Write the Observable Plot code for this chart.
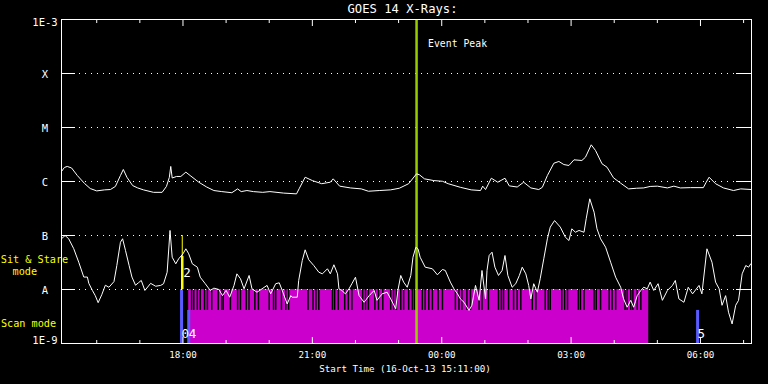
<!DOCTYPE html>
<html>
<head>
<meta charset="utf-8">
<script src="https://cdn.jsdelivr.net/npm/d3@7"></script>
<script src="https://cdn.jsdelivr.net/npm/@observablehq/plot@0.6"></script>
<style>
  html, body { margin: 0; padding: 0; background: #000; }
  #chart { width: 768px; height: 384px; }
</style>
</head>
<body>
<div id="chart"></div>
<script>
// ---------------- data ----------------
const titleText = "GOES 14 X-Rays:";
const xTitle = "Start Time (16-Oct-13 15:11:00)";
const startClock = "15:11";
const endClock = "07:11";

const levelValues = [1e-9, 1e-8, 1e-7, 1e-6, 1e-5, 1e-4, 1e-3];
const levelLabels = ["1E-9", "A", "B", "C", "M", "X", "1E-3"];
const gridLevels = [1e-8, 1e-7, 1e-6, 1e-5, 1e-4];

const xTickClocks = ["18:00", "21:00", "00:00", "03:00", "06:00"];

// GOES long channel (1-8 A)
const longTimes = ["15:11","15:15","15:19","15:25","15:33","15:43","15:51","16:00","16:11","16:19","16:26","16:33","16:37","16:42","16:50","16:57","17:05","17:19","17:31","17:37","17:41","17:43","17:45","17:51","17:57","18:04","18:10","18:22","18:33","18:43","18:54","19:08","19:16","19:21","19:29","19:38","19:51","20:01","20:20","20:38","20:42","20:50","21:00","21:13","21:25","21:29","21:38","21:53","22:08","22:18","22:33","22:49","23:01","23:14","23:25","23:29","23:36","23:49","00:01","00:09","00:26","00:41","00:54","00:57","01:01","01:09","01:18","01:28","01:34","01:45","01:54","02:04","02:15","02:20","02:27","02:36","02:43","02:50","02:57","03:04","03:15","03:20","03:28","03:34","03:43","03:50","03:59","04:09","04:20","04:31","04:41","04:50","05:00","05:14","05:23","05:32","05:46","06:04","06:08","06:12","06:21","06:32","06:46","06:56","07:11"];
const longFlux = [1.53e-6,1.82e-6,1.90e-6,1.78e-6,1.29e-6,9.2e-7,7.4e-7,6.7e-7,7.0e-7,7.1e-7,8.1e-7,1.29e-6,1.67e-6,1.20e-6,8.4e-7,7.6e-7,7.0e-7,6.3e-7,6.3e-7,8.1e-7,1.19e-6,1.90e-6,1.16e-6,1.24e-6,1.24e-6,1.49e-6,1.29e-6,9.7e-7,7.9e-7,6.8e-7,6.5e-7,6.2e-7,7.3e-7,6.5e-7,6.8e-7,6.5e-7,6.3e-7,6.5e-7,6.1e-7,5.9e-7,7.5e-7,1.20e-6,1.04e-6,9.1e-7,9.7e-7,1.12e-6,8.2e-7,7.6e-7,7.3e-7,6.6e-7,6.8e-7,7.0e-7,7.5e-7,9.1e-7,1.39e-6,1.33e-6,1.12e-6,1.04e-6,1.01e-6,9.1e-7,7.8e-7,7.0e-7,6.8e-7,8.2e-7,7.1e-7,1.15e-6,9.7e-7,1.15e-6,8.3e-7,7.9e-7,9.7e-7,7.6e-7,7.1e-7,7.8e-7,1.29e-6,2.18e-6,2.35e-6,2.06e-6,1.98e-6,2.52e-6,2.45e-6,2.82e-6,4.78e-6,3.75e-6,2.13e-6,1.84e-6,1.17e-6,9.3e-7,7.3e-7,7.5e-7,7.6e-7,8.1e-7,8.2e-7,7.6e-7,8.2e-7,7.6e-7,7.7e-7,7.7e-7,9.7e-7,1.20e-6,9.1e-7,7.6e-7,6.8e-7,7.3e-7,7.1e-7];

// GOES short channel (0.5-4 A)
const shortTimes = ["15:11","15:16","15:21","15:28","15:35","15:42","15:47","15:49","15:54","15:58","16:02","16:07","16:12","16:17","16:24","16:28","16:33","16:36","16:40","16:45","16:49","16:54","16:58","17:02","17:07","17:15","17:22","17:29","17:33","17:38","17:42","17:45","17:50","17:54","18:00","18:04","18:08","18:13","18:20","18:24","18:31","18:38","18:43","18:50","18:55","19:00","19:05","19:11","19:15","19:20","19:25","19:32","19:36","19:43","19:50","19:57","20:02","20:09","20:14","20:19","20:25","20:30","20:32","20:39","20:41","20:46","20:50","20:55","21:02","21:09","21:14","21:21","21:25","21:30","21:35","21:37","21:41","21:46","21:51","21:55","22:00","22:05","22:12","22:19","22:26","22:30","22:37","22:44","22:49","22:56","22:59","23:03","23:07","23:12","23:17","23:20","23:24","23:27","23:30","23:37","23:47","23:54","00:01","00:05","00:12","00:17","00:22","00:26","00:31","00:38","00:42","00:47","00:52","00:56","01:01","01:03","01:06","01:10","01:14","01:19","01:24","01:28","01:32","01:38","01:43","01:48","01:52","01:57","02:01","02:04","02:08","02:13","02:17","02:22","02:27","02:31","02:37","02:45","02:52","02:57","03:01","03:06","03:11","03:18","03:21","03:26","03:32","03:36","03:41","03:48","03:55","04:02","04:09","04:13","04:18","04:23","04:27","04:32","04:37","04:41","04:46","04:50","04:55","05:01","05:07","05:14","05:21","05:25","05:30","05:37","05:43","05:49","05:58","06:02","06:09","06:16","06:21","06:26","06:30","06:35","06:39","06:44","06:49","06:53","06:58","07:03","07:07","07:10"];
const shortFlux = [8.7e-8,1.0e-7,8.7e-8,5.7e-8,3.2e-8,1.7e-8,1.7e-8,1.3e-8,9.6e-9,7.7e-9,5.7e-9,8.0e-9,1.2e-8,1.1e-8,1.4e-8,2.8e-8,7.5e-8,8.7e-8,5.3e-8,2.8e-8,1.7e-8,1.2e-8,1.33e-8,1.47e-8,9.6e-9,1.3e-8,1.15e-8,1.19e-8,1.28e-8,2.09e-8,1.24e-7,3.96e-8,2.99e-8,3.7e-8,4.58e-8,5.67e-8,4.58e-8,2.99e-8,2.59e-8,1.69e-8,1.28e-8,9.6e-9,1.06e-8,1.0e-8,7.7e-9,9.6e-9,7.2e-9,1.19e-8,1.95e-8,1.58e-8,1.03e-8,1.82e-8,1.03e-8,8.9e-9,1.03e-8,1.19e-8,8.3e-9,1.28e-8,1.33e-8,8.9e-9,5.4e-9,7.7e-9,7.2e-9,7.2e-9,1.47e-8,3.44e-8,5.43e-8,3.55e-8,2.78e-8,2.09e-8,1.95e-8,2.42e-8,1.95e-8,2.87e-8,1.95e-8,1.03e-8,9.6e-9,8.3e-9,1.03e-8,1.28e-8,1.69e-8,7.7e-9,5.8e-9,7.7e-9,9.6e-9,6.3e-9,8.3e-9,8.9e-9,6.7e-9,4.4e-9,9.6e-9,1.82e-8,1.37e-8,1.1e-8,1.82e-8,3.96e-8,6.07e-8,5.67e-8,3.96e-8,2.59e-8,2.42e-8,1.87e-8,2.35e-8,2.25e-8,1.37e-8,1.03e-8,8.3e-9,6.7e-9,5.8e-9,4.1e-9,5.1e-9,1.19e-8,6.3e-9,2.25e-8,6.7e-9,2.25e-8,4.26e-8,4.91e-8,2.59e-8,1.82e-8,2.25e-8,4.26e-8,1.82e-8,1.1e-8,1.28e-8,1.82e-8,2.59e-8,1.95e-8,1.19e-8,6.7e-9,1.28e-8,8.9e-9,1.58e-8,3.7e-8,8.69e-8,1.43e-7,1.89e-7,1.43e-7,9.3e-8,8.08e-8,1.33e-7,1.15e-7,1.24e-7,1.15e-7,2.04e-7,4.78e-7,2.7e-7,1.33e-7,8.69e-8,6.07e-8,3.2e-8,1.69e-8,1.1e-8,6.7e-9,4.7e-9,6.3e-9,4.7e-9,7.7e-9,9.6e-9,1.1e-8,1.03e-8,1.37e-8,9.6e-9,1.28e-8,6.3e-9,9.6e-9,1.19e-8,1.47e-8,6.7e-9,5.8e-9,1.1e-8,8.3e-9,1.19e-8,8.3e-9,5.67e-8,3.2e-8,1.37e-8,1.03e-8,5.1e-9,7.7e-9,3.8e-9,2.3e-9,5.1e-9,6.3e-9,1.95e-8,2.78e-8,2.59e-8,2.99e-8];

// Observing mode panel
const scanStartClock = "18:08";
const scanEndClock = "04:48";
const scanGapClocks = ["18:12","18:15","18:20","18:24","18:30","18:34","18:40","18:49","18:54","18:56","19:06","19:16","19:20","19:28","19:32","19:40","19:45","20:00","20:06","20:09","20:17","20:23","20:27","20:54","21:01","21:05","21:09","21:28","21:31","21:36","21:45","21:50","21:55","22:10","22:14","22:18","22:27","22:32","22:38","22:49","22:53","22:57","23:03","23:07","23:14","23:19","23:22","23:33","23:37","23:42","23:47","23:55","00:01","00:19","00:24","00:28","00:35","00:40","00:52","00:56","01:05","01:19","01:23","01:26","01:33","01:40","01:45","01:50","02:06","02:11","02:24","02:28","02:31","02:47","02:51","02:55","03:10","03:13","03:18","03:32","03:35","03:41","03:53","03:57","04:02","04:15","04:18","04:23","04:26","04:32","04:37"];
const sitStareClocks = ["17:59"];
const sitStareLabels = ["2"];
const scanMarkClocks = ["17:58", "18:08", "05:56"];
const scanMarkLabels = ["0", "4", "5"];
const scanMarkFull = [true, false, false];
const eventPeakClock = "23:25";
const eventPeakLabel = "Event Peak";
const modeSplit = 4.1e-9;   // boundary between the two mode strips
const sitSplit = 4.1e-8;

// ---------------- helpers ----------------
function toDate(clock) {
  const [h, m] = clock.split(":").map(Number);
  const day = h >= 12 ? 16 : 17;
  return new Date(Date.UTC(2013, 9, day, h, m));
}
const start = toDate(startClock);
const end = toDate(endClock);

const longData = longTimes.map((t, i) => ({time: toDate(t), flux: longFlux[i]}));
const shortData = shortTimes.map((t, i) => ({time: toDate(t), flux: shortFlux[i]}));
const gaps = scanGapClocks.map(toDate);
const hours = d3.utcHour.range(d3.utcHour.ceil(start), end);
const majorHours = hours.filter(d => d.getUTCHours() % 3 === 0);
const minorHours = hours.filter(d => d.getUTCHours() % 3 !== 0);
const xTicks = xTickClocks.map(c => ({time: toDate(c), label: c}));
const scanMarks = scanMarkClocks.map((c, i) => ({time: toDate(c), label: scanMarkLabels[i], full: scanMarkFull[i]}));
const sitMarks = sitStareClocks.map((c, i) => ({time: toDate(c), label: sitStareLabels[i]}));
const levels = levelValues.map((v, i) => ({v, label: levelLabels[i]}));

const innerH = 384 - 19 - 41;
const innerW = 768 - 61 - 17;
const font = "DejaVu Sans Mono, Liberation Mono, monospace";
const yellow = "#ffff00";
const blue = "#5a5aff";
const magenta = "#cc00cc";
const peakColor = "#99cc00";
const T = {fill: "#fff", lineAnchor: "middle", fontFamily: font};

const chart = Plot.plot({
  width: 768,
  height: 384,
  marginLeft: 61,
  marginRight: 17,
  marginTop: 19,
  marginBottom: 41,
  style: {background: "#000", color: "#fff", fontFamily: font, fontSize: "10px", overflow: "visible"},
  x: {type: "utc", domain: [start, end], axis: null},
  y: {type: "log", domain: [1e-9, 1e-3], axis: null},
  marks: [
    // scan mode band
    Plot.rectY([{a: toDate(scanStartClock), b: toDate(scanEndClock)}], {x1: "a", x2: "b", y1: 1e-9, y2: 1e-8, fill: magenta}),
    Plot.ruleX(gaps, {x: d => d, y1: modeSplit, y2: 1e-8, stroke: "#000", strokeWidth: 1.5}),
    // mode markers
    Plot.ruleX(scanMarks, {x: "time", y1: 1e-9, y2: d => d.full ? 1e-8 : modeSplit, stroke: blue, strokeWidth: 3}),
    Plot.ruleX(sitMarks, {x: "time", y1: 1e-8, y2: 1e-7, stroke: yellow, strokeWidth: 1}),
    Plot.ruleX(sitMarks, {x: "time", y1: 1e-8, y2: sitSplit, stroke: yellow, strokeWidth: 2.5}),
    // dotted grid
    Plot.ruleY(gridLevels, {y: d => d, stroke: "#fff", strokeWidth: 1, strokeDasharray: "1,5"}),
    // event peak
    Plot.ruleX([toDate(eventPeakClock)], {x: d => d, stroke: peakColor, strokeWidth: 2.5}),
    Plot.text([eventPeakLabel], {...T, x: () => toDate(eventPeakClock), text: d => d, frameAnchor: "top", dy: 24, dx: 11.5, textAnchor: "start", fontSize: 9.8}),
    // curves
    Plot.line(longData, {x: "time", y: "flux", stroke: "#fff", strokeWidth: 1}),
    Plot.line(shortData, {x: "time", y: "flux", stroke: "#fff", strokeWidth: 1}),
    // marker labels
    Plot.text(scanMarks, {...T, x: "time", text: "label", frameAnchor: "bottom", dy: -10, dx: 0, textAnchor: "start", fontSize: 12.5}),
    Plot.text(sitMarks, {...T, x: "time", text: "label", frameAnchor: "bottom", dy: -71, dx: 1, textAnchor: "start", fontSize: 12.5}),
    // frame and ticks
    Plot.frame({stroke: "#fff", strokeWidth: 1}),
    Plot.ruleY(levelValues, {y: d => d, stroke: "#fff", insetRight: innerW - 14}),
    Plot.ruleY(levelValues, {y: d => d, stroke: "#fff", insetLeft: innerW - 15}),
    Plot.ruleX(majorHours, {x: d => d, stroke: "#fff", insetTop: innerH - 6}),
    Plot.ruleX(minorHours, {x: d => d, stroke: "#fff", insetTop: innerH - 3}),
    Plot.ruleX(majorHours, {x: d => d, stroke: "#fff", insetBottom: innerH - 7}),
    Plot.ruleX(minorHours, {x: d => d, stroke: "#fff", insetBottom: innerH - 4}),
    // y labels
    Plot.text(levels.slice(1, 6), {...T, y: "v", text: "label", frameAnchor: "left", dx: -16.5, dy: 1, textAnchor: "middle", fontSize: 10.5}),
    Plot.text(levels.slice(0, 1), {...T, y: "v", text: "label", frameAnchor: "left", dx: -16.5, dy: -3, textAnchor: "middle", fontSize: 10.5}),
    Plot.text(levels.slice(6), {...T, y: "v", text: "label", frameAnchor: "left", dx: -16.5, dy: 3.5, textAnchor: "middle", fontSize: 10.5}),
    // x labels
    Plot.text(xTicks, {...T, x: "time", text: "label", frameAnchor: "bottom", dy: 12, fontSize: 9.2}),
    Plot.text([xTitle], {...T, text: d => d, frameAnchor: "bottom", dx: -1.5, dy: 25.5, fontSize: 9.2}),
    Plot.text([titleText], {...T, text: d => d, frameAnchor: "top", dx: -4, dy: -10, fontSize: 12.2}),
    // mode legends
    Plot.text(["Sit & Stare"], {...T, text: d => d, frameAnchor: "top-left", dx: -27, dy: 240, textAnchor: "middle", fill: yellow, fontSize: 10.2}),
    Plot.text(["mode"], {...T, text: d => d, frameAnchor: "top-left", dx: -36.7, dy: 252, textAnchor: "middle", fill: yellow, fontSize: 10.2}),
    Plot.text(["Scan mode"], {...T, text: d => d, frameAnchor: "top-left", dx: -33, dy: 304.5, textAnchor: "middle", fill: yellow, fontSize: 10.2})
  ]
});
document.getElementById("chart").appendChild(chart);
</script>
</body>
</html>
